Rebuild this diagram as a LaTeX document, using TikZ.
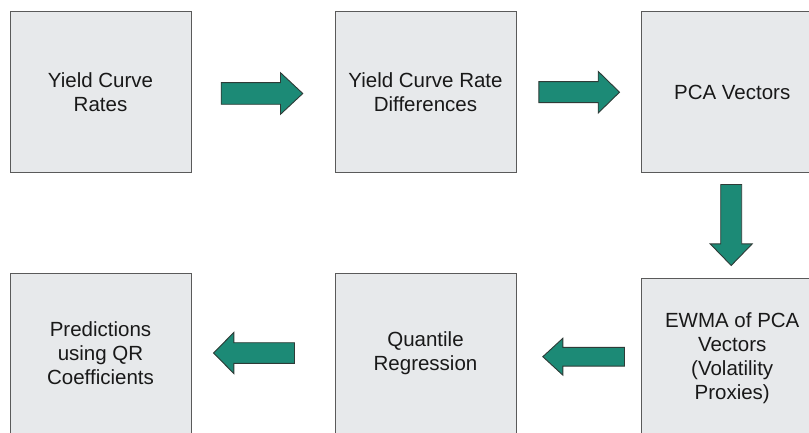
\documentclass[tikz,border=0pt]{standalone}
\usepackage{fontspec}
\setmainfont{Liberation Sans}
\usetikzlibrary{calc}
\definecolor{boxfill}{HTML}{E7E9EB}
\definecolor{boxline}{HTML}{5A5A5A}
\definecolor{arrowfill}{HTML}{1C8A76}
\definecolor{arrowline}{HTML}{2E3B37}
\tikzset{
  stagebox/.style={draw=boxline, line width=1pt, fill=boxfill, rectangle,
    minimum width=181pt, minimum height=160pt, inner sep=0pt, align=center,
    font=\fontsize{20.5}{24}\selectfont, text=black!90},
  blockarrowstyle/.style={draw=arrowline, line width=0.9pt, fill=arrowfill, line join=miter},
  pics/barrow/.style args={#1/#2/#3/#4}{code={
    \draw[blockarrowstyle] (0,-#2) -- ({#1-#4},-#2) -- ({#1-#4},-#3) -- (#1,0)
      -- ({#1-#4},#3) -- ({#1-#4},#2) -- (0,#2) -- cycle;}}
}
\begin{document}
\begin{tikzpicture}[x=1pt,y=1pt]
\useasboundingbox (0,0) rectangle (809,432);
\clip (0,0) rectangle (809,432);
\node[stagebox] (b1) at (100.5,340) {Yield Curve\\Rates};
\node[stagebox] (b2) at (425.5,340) {Yield Curve Rate\\Differences};
\node[stagebox] (b3) at (732.2,340) {PCA Vectors};
\node[stagebox] (b4) at (732.2,74) {EWMA of PCA\\Vectors\\(Volatility\\Proxies)};
\node[stagebox] (b5) at (425.5,79) {Quantile\\Regression};
\node[stagebox] (b6) at (100.5,79) {Predictions\\using QR\\Coefficients};
\pic at ($(b1.east)+(29.7,-1.5)$) {barrow=81.6/10.8/20.8/22.3};
\pic at ($(b2.east)+(22.3,-0.2)$) {barrow=80.7/10.5/20.8/21.3};
\pic[rotate=-90] at ($(b3.south)+(-1,-12)$) {barrow=81/10.5/21.1/21.7};
\pic[rotate=180] at ($(b4.west)+(-16.7,1.3)$) {barrow=81.7/9.4/18.4/20};
\pic[rotate=180] at ($(b5.west)+(-40,0)$) {barrow=81/10.3/20.5/20.3};
\end{tikzpicture}
\end{document}
